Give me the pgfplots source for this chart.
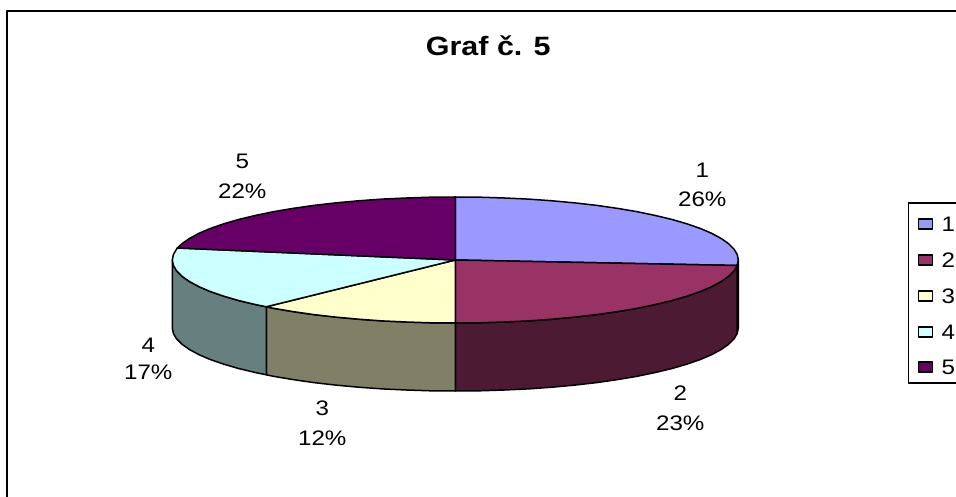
\documentclass[border=0pt]{standalone}
\usepackage{fontspec}
\setmainfont[FakeStretch=1.15]{Liberation Sans}
\usepackage{pgfplots}
\pgfplotsset{compat=1.18}
\definecolor{s1}{HTML}{9999FF}
\definecolor{s2}{HTML}{993366}
\definecolor{s3}{HTML}{FFFFCC}
\definecolor{s4}{HTML}{CCFFFF}
\definecolor{s5}{HTML}{660066}
\definecolor{w1}{HTML}{33334D}
\definecolor{w2}{HTML}{4C1A33}
\definecolor{w3}{HTML}{808066}
\definecolor{w4}{HTML}{668080}
\newcommand{\lab}{\fontsize{21}{29.5}\selectfont}
\begin{document}
\begin{tikzpicture}[x=1pt,y=1pt]
\useasboundingbox (0,0) rectangle (956,497);
\begin{axis}[at={(0,0)},anchor=south west,scale only axis,width=956pt,height=497pt,
 xmin=-455.3,xmax=500.7,ymin=-237,ymax=260,hide axis,clip=true,
 every axis plot/.append style={draw=black,line width=1.5pt,line join=round,no marks}]
% frame
\addplot[line width=2.2pt,fill=none] coordinates {(-448.5,-237) (-448.5,249) (500.7,249)};
% wall 1 (sliver)
\addplot[fill=w1] coordinates {(283,0) (281.9,-5.5) (281.9,-73.5) (283,-68)} -- cycle;
% wall 2
\addplot[fill=w2] coordinates {(281.9,-5.5) (278.7,-10.9) (273.3,-16.3) (265.9,-21.5) (256.5,-26.6) (245.1,-31.5) (231.8,-36.1) (216.8,-40.5) (200.1,-44.5) (181.9,-48.3) (162.3,-51.6) (141.5,-54.6) (119.6,-57.1) (96.8,-59.2) (73.2,-60.9) (49.1,-62) (24.7,-62.8) (0,-63)
 (0,-131) (24.7,-130.8) (49.1,-130) (73.2,-128.9) (96.8,-127.2) (119.6,-125.1) (141.5,-122.6) (162.3,-119.6) (181.9,-116.3) (200.1,-112.5) (216.8,-108.5) (231.8,-104.1) (245.1,-99.5) (256.5,-94.6) (265.9,-89.5) (273.3,-84.3) (278.7,-78.9) (281.9,-73.5)} -- cycle;
% wall 3
\addplot[fill=w3] coordinates {(0,-63) (-24.7,-62.8) (-49.1,-62) (-73.2,-60.9) (-96.8,-59.2) (-119.6,-57.1) (-141.5,-54.6) (-162.3,-51.6) (-181.9,-48.3) (-189,-46.8)
 (-189,-114.8) (-181.9,-116.3) (-162.3,-119.6) (-141.5,-122.6) (-119.6,-125.1) (-96.8,-127.2) (-73.2,-128.9) (-49.1,-130) (-24.7,-130.8) (0,-131)} -- cycle;
% wall 4
\addplot[fill=w4] coordinates {(-189,-46.8) (-200.1,-44.5) (-216.8,-40.5) (-231.8,-36.1) (-245.1,-31.5) (-256.5,-26.6) (-265.9,-21.5) (-273.3,-16.3) (-278.7,-10.9) (-281.9,-5.5) (-283,0)
 (-283,-68) (-281.9,-73.5) (-278.7,-78.9) (-273.3,-84.3) (-265.9,-89.5) (-256.5,-94.6) (-245.1,-99.5) (-231.8,-104.1) (-216.8,-108.5) (-200.1,-112.5) (-189,-114.8)} -- cycle;
% top 1
\addplot[fill=s1] coordinates {(0,0) (0,63) (24.7,62.8) (49.1,62) (73.2,60.9) (96.8,59.2) (119.6,57.1) (141.5,54.6) (162.3,51.6) (181.9,48.3) (200.1,44.5) (216.8,40.5) (231.8,36.1) (245.1,31.5) (256.5,26.6) (265.9,21.5) (273.3,16.3) (278.7,10.9) (281.9,5.5) (283,0) (281.9,-5.5)} -- cycle;
% top 2
\addplot[fill=s2] coordinates {(0,0) (281.9,-5.5) (278.7,-10.9) (273.3,-16.3) (265.9,-21.5) (256.5,-26.6) (245.1,-31.5) (231.8,-36.1) (216.8,-40.5) (200.1,-44.5) (181.9,-48.3) (162.3,-51.6) (141.5,-54.6) (119.6,-57.1) (96.8,-59.2) (73.2,-60.9) (49.1,-62) (24.7,-62.8) (0,-63)} -- cycle;
% top 3
\addplot[fill=s3] coordinates {(0,0) (0,-63) (-24.7,-62.8) (-49.1,-62) (-73.2,-60.9) (-96.8,-59.2) (-119.6,-57.1) (-141.5,-54.6) (-162.3,-51.6) (-181.9,-48.3) (-189,-46.8)} -- cycle;
% top 4
\addplot[fill=s4] coordinates {(0,0) (-189,-46.8) (-200.1,-44.5) (-216.8,-40.5) (-231.8,-36.1) (-245.1,-31.5) (-256.5,-26.6) (-265.9,-21.5) (-273.3,-16.3) (-278.7,-10.9) (-281.9,-5.5) (-283,0) (-281.9,5.5) (-278.7,10.9) (-278,12)} -- cycle;
% top 5
\addplot[fill=s5] coordinates {(0,0) (-278,12) (-273.3,16.3) (-265.9,21.5) (-256.5,26.6) (-245.1,31.5) (-231.8,36.1) (-216.8,40.5) (-200.1,44.5) (-181.9,48.3) (-162.3,51.6) (-141.5,54.6) (-119.6,57.1) (-96.8,59.2) (-73.2,60.9) (-49.1,62) (-24.7,62.8) (0,63)} -- cycle;
% legend box
\addplot[line width=1.2pt,fill=white] coordinates {(501,57) (453,57) (453,-123) (501,-123)};
\addplot[fill=s1,line width=1.2pt] coordinates {(463,41) (477,41) (477,31) (463,31)} -- cycle;
\addplot[fill=s2,line width=1.2pt] coordinates {(463,5) (477,5) (477,-5) (463,-5)} -- cycle;
\addplot[fill=s3,line width=1.2pt] coordinates {(463,-31) (477,-31) (477,-41) (463,-41)} -- cycle;
\addplot[fill=s4,line width=1.2pt] coordinates {(463,-67) (477,-67) (477,-77) (463,-77)} -- cycle;
\addplot[fill=s5,line width=1.2pt] coordinates {(463,-102) (477,-102) (477,-112) (463,-112)} -- cycle;
\node[anchor=west,inner sep=0pt,font=\lab] at (axis cs:486,36) {1};
\node[anchor=west,inner sep=0pt,font=\lab] at (axis cs:486,0) {2};
\node[anchor=west,inner sep=0pt,font=\lab] at (axis cs:486,-36) {3};
\node[anchor=west,inner sep=0pt,font=\lab] at (axis cs:486,-72) {4};
\node[anchor=west,inner sep=0pt,font=\lab] at (axis cs:486,-107) {5};
% title
\node[font=\fontsize{26.5}{30}\selectfont\bfseries,inner sep=0pt] at (axis cs:33,214) {Graf č. 5};
% data labels
\node[align=center,font=\lab,inner sep=0pt] at (axis cs:247,75) {1\\26\%};
\node[align=center,font=\lab,inner sep=0pt] at (axis cs:225,-148.5) {2\\23\%};
\node[align=center,font=\lab,inner sep=0pt] at (axis cs:-133,-163) {3\\12\%};
\node[align=center,font=\fontsize{21}{27}\selectfont,inner sep=0pt] at (axis cs:-307,-98.5) {4\\17\%};
\node[align=center,font=\lab,inner sep=0pt] at (axis cs:-213,83.5) {5\\22\%};
\end{axis}
\end{tikzpicture}
\end{document}
